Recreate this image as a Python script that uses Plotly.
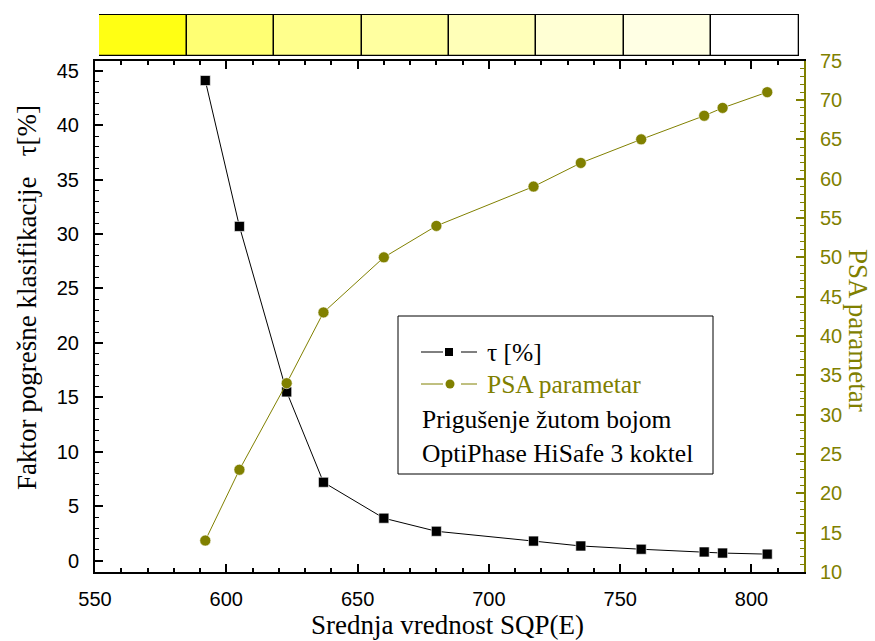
import plotly.graph_objects as go

# Mean SQP(E) of the quenched samples
sqp_mean = [592, 605, 623, 637, 660, 680, 717, 735, 758, 782, 789, 806]
# Misclassification factor tau [%]
tau_pct = [44.1, 30.7, 15.5, 7.2, 3.9, 2.7, 1.8, 1.35, 1.05, 0.8, 0.7, 0.6]
# PSA parameter
psa_param = [14, 23, 34, 43, 50, 54, 59, 62, 65, 68, 69, 71]
# Colour strip: yellow quench level, strongest to none
quench_shades = ["#ffff14", "#ffff73", "#ffff8c", "#ffffa0",
                 "#ffffb8", "#ffffd4", "#ffffe4", "#ffffff"]

W, H = 875, 641
OLIVE = "#808000"
SERIF = "Liberation Serif"
SANS = "Liberation Sans"


def px(x):
    return x / W


def py(y):
    return 1 - y / H


fig = go.Figure()

fig.add_trace(go.Scatter(
    x=sqp_mean, y=tau_pct, mode="lines+markers", name="τ [%]",
    line=dict(color="black", width=1),
    marker=dict(symbol="square", size=10, color="black",
                line=dict(color="white", width=0.6)),
    xaxis="x", yaxis="y", showlegend=False, cliponaxis=False,
))
fig.add_trace(go.Scatter(
    x=sqp_mean, y=psa_param, mode="lines+markers", name="PSA parametar",
    line=dict(color=OLIVE, width=1),
    marker=dict(symbol="circle", size=11, color=OLIVE,
                line=dict(color="white", width=0.6)),
    xaxis="x", yaxis="y2", showlegend=False, cliponaxis=False,
))

# Quench colour strip above the plot
fig.add_trace(go.Bar(
    x=[i + 0.5 for i in range(len(quench_shades))],
    y=[1] * len(quench_shades), width=1,
    marker=dict(color=quench_shades, line=dict(color="black", width=1.3)),
    xaxis="x3", yaxis="y3", showlegend=False, hoverinfo="skip",
))

tickfont = dict(family=SANS, size=20, color="black")
fig.update_layout(
    template="none",
    width=W, height=H,
    margin=dict(l=0, r=0, t=0, b=0, autoexpand=False),
    paper_bgcolor="white", plot_bgcolor="rgba(0,0,0,0)",
    bargap=0,
    xaxis=dict(
        domain=[px(95), px(804)], range=[550, 820], anchor="y",
        automargin=False,
        tick0=550, dtick=50, ticks="inside", ticklen=8, tickwidth=1.5,
        tickcolor="black", minor=dict(dtick=10, ticks="inside", ticklen=4,
                                      tickwidth=1.5, tickcolor="black"),
        showline=True, linecolor="black", linewidth=2, mirror="ticks",
        showgrid=False, zeroline=False, tickfont=tickfont,
        ticklabelstandoff=8,
    ),
    yaxis=dict(
        domain=[py(572), py(60.7)], range=[-1.04, 45.92], anchor="x",
        automargin=False,
        tick0=0, dtick=5, ticks="inside", ticklen=8, tickwidth=1.5,
        tickcolor="black", minor=dict(dtick=1, ticks="inside", ticklen=4,
                                      tickwidth=1.2, tickcolor="black"),
        showline=True, linecolor="black", linewidth=2,
        showgrid=False, zeroline=False, tickfont=tickfont,
        ticklabelstandoff=10,
    ),
    yaxis2=dict(
        overlaying="y", side="right", anchor="x", range=[10, 75],
        automargin=False,
        tick0=10, dtick=5, ticks="inside", ticklen=8, tickwidth=1.5,
        tickcolor=OLIVE, minor=dict(dtick=1, ticks="inside", ticklen=4,
                                    tickwidth=1.2, tickcolor=OLIVE),
        showline=True, linecolor=OLIVE, linewidth=2,
        showgrid=False, zeroline=False,
        tickfont=dict(family=SANS, size=20, color=OLIVE),
        ticklabelstandoff=10,
    ),
    xaxis3=dict(domain=[px(99), px(799)], range=[-0.004, 8.004],
                anchor="y3", visible=False, fixedrange=True,
                automargin=False),
    yaxis3=dict(domain=[py(56.5), py(14)], range=[-0.02, 1.02],
                anchor="x3", visible=False, fixedrange=True,
                automargin=False),
)


def label(x, y, text, size, color="black", angle=0, xanchor="center"):
    fig.add_annotation(x=px(x), y=py(y), xref="paper", yref="paper",
                       xanchor=xanchor, yanchor="middle", text=text,
                       textangle=angle, showarrow=False,
                       font=dict(family=SERIF, size=size, color=color))


# Axis titles
label(447, 625, "Srednja vrednost SQP(E)", 27)
label(27, 298, "Faktor pogrešne klasifikacije\u00a0\u00a0\u00a0τ[%]", 27,
      angle=-90)
label(858, 330, "PSA parametar", 27, color=OLIVE, angle=90)

# Legend box with samples
fig.add_shape(type="rect", xref="paper", yref="paper",
              x0=px(398), x1=px(713), y0=py(474), y1=py(316),
              line=dict(color="black", width=1), fillcolor="white",
              layer="below")

legend_rows = [
    (352, "black", "square", "τ [%]"),
    (384, OLIVE, "circle", "PSA parametar"),
]
for yy, col, sym, text in legend_rows:
    for xa, xb in [(421, 443), (461, 477)]:
        fig.add_shape(type="line", xref="paper", yref="paper",
                      x0=px(xa), x1=px(xb), y0=py(yy), y1=py(yy),
                      line=dict(color=col, width=1))
    if sym == "square":
        fig.add_shape(type="rect", xref="paper", yref="paper",
                      x0=px(445), x1=px(453), y0=py(yy + 4), y1=py(yy - 4),
                      fillcolor=col, line=dict(width=0))
    else:
        fig.add_shape(type="circle", xref="paper", yref="paper",
                      x0=px(445.5), x1=px(454.5), y0=py(yy + 4.5),
                      y1=py(yy - 4.5), fillcolor=col, line=dict(width=0))
    label(485, yy, text, 25.5, color=col, xanchor="left")

label(420, 419, "Prigušenje žutom bojom", 25.5, xanchor="left")
label(420, 453, "OptiPhase HiSafe 3 koktel", 25.5, xanchor="left")

fig.write_html("out.html")
